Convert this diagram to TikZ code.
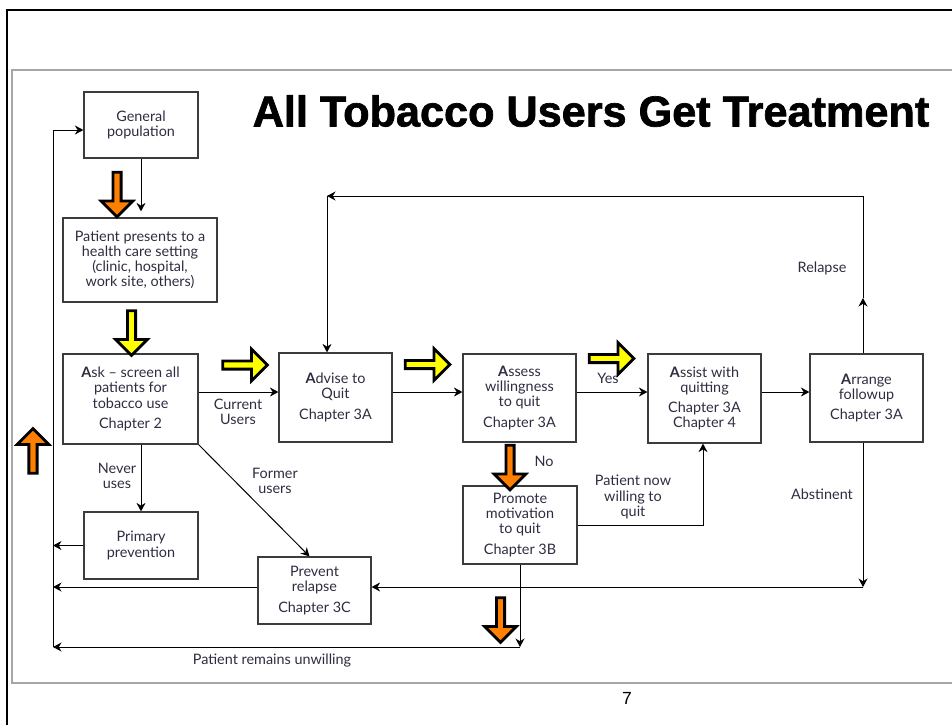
\documentclass[tikz,border=0pt]{standalone}
\usepackage{fontspec}
\setmainfont{Lato}
\newfontfamily\titlefont[BoldFeatures={FakeBold=1.6}]{Liberation Sans}
\usetikzlibrary{arrows.meta,shapes.arrows}
\definecolor{txtc}{RGB}{45,45,65}
\definecolor{boxc}{RGB}{60,60,60}
\definecolor{orng}{RGB}{255,128,0}
\definecolor{ylw}{RGB}{255,255,0}

\begin{document}
\begin{tikzpicture}[x=0.02cm,y=-0.02cm,
   every node/.style={font=\fontsize{8.2}{8.6}\selectfont,text=txtc},
   bx/.style={rectangle,draw=boxc,line width=0.7pt,align=center,inner sep=0pt,minimum width=22.6mm},
   lb/.style={align=center,inner sep=1pt},
   ar/.style={-{Stealth[length=1.7mm,width=1.8mm]},line width=0.55pt},
   blk/.style={single arrow,draw=black,line width=1.6pt,minimum height=8.9mm,minimum width=6.3mm,
     single arrow head extend=0.8mm,inner sep=0pt}]
  \path[use as bounding box] (0,0) rectangle (952,724);
  \clip (0,0) rectangle (952,724);
  \draw[line width=1.6pt] (7,10) rectangle (990,760);
  \draw[gray!70,line width=0.8pt] (12,70) rectangle (990,683);
  \node[font=\titlefont\bfseries\fontsize{24.6}{28}\selectfont,text=black] (ttl) at (591,111)
    {All Tobacco Users Get Treatment};
  % boxes
  \node[bx,minimum width=22.8mm,minimum height=13.2mm] (gen) at (141,125) {General\\population};
  \node[bx,minimum width=30.8mm,minimum height=16.8mm] (pat) at (140,260)
    {Patient presents to a\\health care setting\\(clinic, hospital,\\work site, others)};
  \node[bx,minimum width=27mm,minimum height=18mm] (ask) at (130.5,399)
    {\textbf{A}sk -- screen all\\patients for\\tobacco use\\[3pt]Chapter 2};
  \node[bx,minimum height=17.8mm] (adv) at (335.5,397.5) {\textbf{A}dvise to\\Quit\\[3pt]Chapter 3A};
  \node[bx,minimum height=17.6mm] (ass) at (519.5,398)
    {\textbf{A}ssess\\willingness\\to quit\\[3pt]Chapter 3A};
  \node[bx,minimum height=17.8mm] (ast) at (704.5,398.5)
    {\textbf{A}ssist with\\quitting\\[3pt]Chapter 3A\\Chapter 4};
  \node[bx,minimum height=17.6mm] (arr) at (866.5,398) {\textbf{A}rrange\\followup\\[3pt]Chapter 3A};
  \node[bx,minimum width=22.8mm,minimum height=15.6mm] (pro) at (520,525)
    {Promote\\motivation\\to quit\\[3pt]Chapter 3B};
  \node[bx,minimum width=22.8mm,minimum height=13.4mm] (pri) at (141,545.5) {Primary\\prevention};
  \node[bx,minimum height=13.4mm] (prv) at (314.5,590.5) {Prevent\\relapse\\[3pt]Chapter 3C};
  % corners of the loops
  \coordinate (rowY) at (0,392);
  \coordinate (wilC) at (703,525);
  \coordinate (unwC) at (520,647);
  \coordinate (loopBL) at (53,647);
  \coordinate (loopTL) at (53,130);
  \coordinate (absC) at (863,587);
  \coordinate (relM) at (863,298);
  \coordinate (relT) at (863,196);
  \coordinate (advT) at (327,196);
  % connectors
  \draw[ar,shorten >=1.2mm] (gen.south) -- (gen.south |- pat.north);
  \draw[ar] (ask.east |- rowY) -- (adv.west |- rowY);
  \draw[ar] (adv.east |- rowY) -- (ass.west |- rowY);
  \draw[ar] (ass.east |- rowY) -- (ast.west |- rowY);
  \draw[ar] (ast.east |- rowY) -- (arr.west |- rowY);
  \draw[ar] (pri.north |- ask.south) -- (pri.north);
  \draw[ar] (ask.south east) -- ([xshift=-1mm]prv.north);
  \draw[ar] (pro.east |- wilC) -- (wilC) -- (wilC |- ast.south);
  \draw[ar] (pro.south) -- (unwC);
  \draw[ar] (unwC) -- (loopBL);
  \draw[ar] (loopBL) -- (loopTL) -- (loopTL -| gen.west);
  \draw[ar] (arr.south -| absC) -- (absC);
  \draw[ar] (absC) -- (prv.east |- absC);
  \draw[ar] (prv.west |- absC) -- (loopBL |- absC);
  \draw[ar] (pri.west) -- (pri.west -| loopBL);
  \draw[ar] (arr.north -| relM) -- (relM);
  \draw[ar] (relM) -- (relT) -- (advT);
  \draw[ar] (advT) -- (advT |- adv.north);
  % labels
  \node[lb] (lCur) at (238,412) {Current\\Users};
  \node[lb] (lNev) at (117,476) {Never\\uses};
  \node[lb] (lFor) at (275,481) {Former\\users};
  \node[lb] (lNo) at (544,461) {No};
  \node[lb] (lYes) at (608,378) {Yes};
  \node[lb] (lWil) at (633,497) {Patient now\\willing to\\quit};
  \node[lb] (lRel) at (822,268) {Relapse};
  \node[lb] (lAbs) at (822,494) {Abstinent};
  \node[lb] (lUnw) at (272,660) {Patient remains unwilling};
  \node[font=\titlefont\fontsize{10}{12}\selectfont,text=black] (pg) at (627,698) {7};
  % block arrows
  \node[blk,fill=ylw,rotate=-90] (y1) at (131.5,331) {};
  \node[blk,fill=ylw] (y2) at (243,365) {};
  \node[blk,fill=ylw] (y3) at (425.5,364.5) {};
  \node[blk,fill=ylw] (y4) at (609.5,358.5) {};
  \node[blk,fill=orng,rotate=-90] (o1) at (117,192.5) {};
  \node[blk,fill=orng,rotate=90] (o2) at (33,453) {};
  \node[blk,fill=orng,rotate=-90] (o3) at (510,465.5) {};
  \node[blk,fill=orng,rotate=-90] (o4) at (500.5,618) {};
\end{tikzpicture}
\end{document}
